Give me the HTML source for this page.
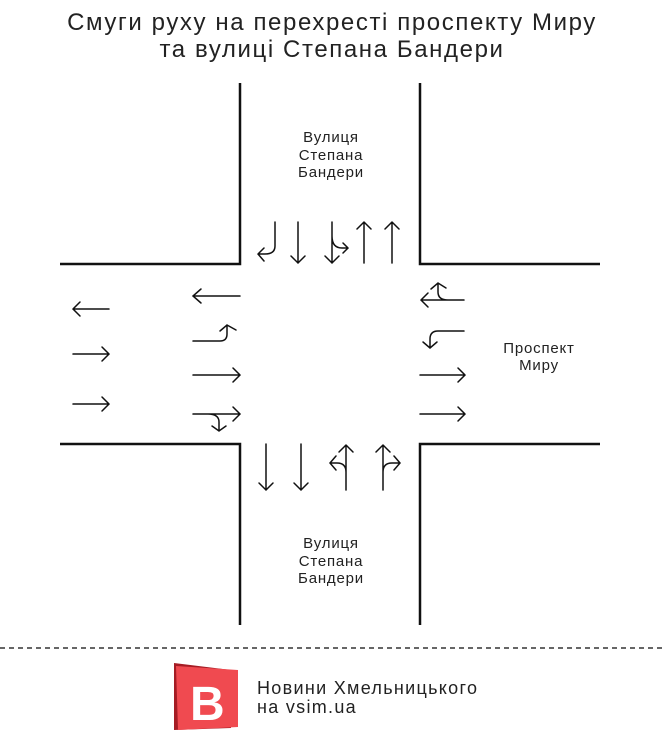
<!DOCTYPE html>
<html><head><meta charset="utf-8"><style>
body{margin:0;background:#fff;width:665px;height:755px;overflow:hidden}
svg{display:block}
text{font-family:"Liberation Sans",sans-serif;fill:#222}
</style></head><body>
<svg width="665" height="755" viewBox="0 0 665 755">
<text x="332" y="30" font-size="24" letter-spacing="1.6" text-anchor="middle">Смуги руху на перехресті проспекту Миру</text>
<text x="332" y="57" font-size="24" letter-spacing="1.6" text-anchor="middle">та вулиці Степана Бандери</text>
<g stroke="#111" stroke-width="2.5" fill="none">
<path d="M240 83V264H60M420 83V264H600M60 444H240V625M600 444H420V625"/>
</g>
<g stroke="#111" stroke-width="1.5" fill="none" stroke-linecap="round">
<path d="M275 222V246Q275 254 265 254H258M264 248L258 254L264 261"/>
<path d="M298 222V263M291 256L298 263L305 256"/>
<path d="M332 222V263M325 256L332 263L339 256M332 236Q332 248 342 248H348M343 243L348 248L343 253"/>
<path d="M364 263V222M357 229L364 222L371 229"/>
<path d="M392 263V222M385 229L392 222L399 229"/>
<path d="M240 296H193M201 289L193 296L201 303"/>
<path d="M193 341H220Q227 341 227 334V326M220 331L227 325L236 330"/>
<path d="M193 375H240M233 368L240 375L233 382"/>
<path d="M193 414H240M233 407L240 414L233 421M208 414Q219 414 219 422V430M212 426L219 431L226 426"/>
<path d="M109 309H73M80 302L73 309L80 316"/>
<path d="M73 354H109M102 347L109 354L102 361"/>
<path d="M73 404H109M102 397L109 404L102 411"/>
<path d="M464 300H421M428 293L421 300L428 307M448 300Q438 300 438 292V284M431 289L438 283L446 288"/>
<path d="M464 331H438Q430 331 430 339V347M423 342L430 348L437 342"/>
<path d="M420 375H465M458 368L465 375L458 382"/>
<path d="M420 414H465M458 407L465 414L458 421"/>
<path d="M266 444V490M259 483L266 490L273 483"/>
<path d="M301 444V490M294 483L301 490L308 483"/>
<path d="M346 490V445M339 452L346 445L353 452M346 472Q346 463 337 463H330M336 456L330 463L336 470"/>
<path d="M383 490V445M376 452L383 445L390 452M383 472Q383 463 392 463H400M394 456L400 463L394 470"/>
</g>
<g font-size="15" letter-spacing="0.8" text-anchor="middle">
<text x="331" y="142">Вулиця</text><text x="331" y="160">Степана</text><text x="331" y="177">Бандери</text>
<text x="331" y="548">Вулиця</text><text x="331" y="566">Степана</text><text x="331" y="583">Бандери</text>
<text x="539" y="353">Проспект</text><text x="539" y="370">Миру</text>
</g>
<line x1="0" y1="648" x2="665" y2="648" stroke="#333" stroke-width="1.5" stroke-dasharray="5,4"/>
<polygon points="174,663 231,670 231,728 174,730" fill="#a51c24"/>
<polygon points="176,666 238,670 238,727 178,730" fill="#f04a50"/>
<text x="190" y="720" font-size="48" font-weight="bold" style="fill:#fff">B</text>
<text x="257" y="694" font-size="18" letter-spacing="1.3">Новини Хмельницького</text>
<text x="257" y="713" font-size="18" letter-spacing="1.3">на vsim.ua</text>
</svg>
</body></html>
